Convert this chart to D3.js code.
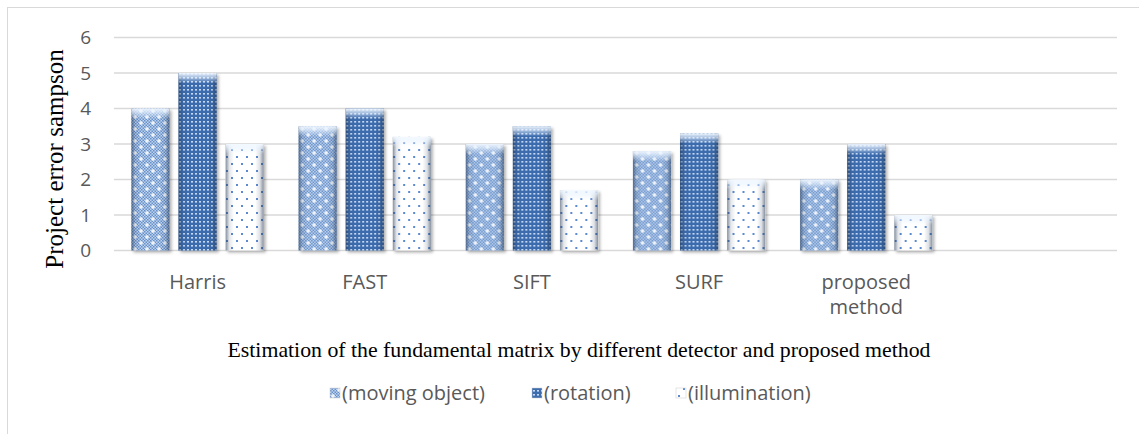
<!DOCTYPE html>
<html>
<head>
<meta charset="utf-8">
<script src="https://cdn.jsdelivr.net/npm/d3@7.9.0/dist/d3.min.js"></script>
<style>
  html, body { margin: 0; padding: 0; background: #fff; }
  svg { display: block; }
</style>
</head>
<body>
<svg id="chart" width="1139" height="434"></svg>
<script>
// chart data
const categories = ["Harris", "FAST", "SIFT", "SURF", "proposed method"];
const series = ["(moving object)", "(rotation)", "(illumination)"];
const movingObject = [4, 3.5, 3, 2.8, 2];
const rotation = [5, 4, 3.5, 3.3, 3];
const illumination = [3, 3.2, 1.7, 2, 1];
const yTicks = [0, 1, 2, 3, 4, 5, 6];
const yTitle = "Project error sampson";
const xTitle = "Estimation of the fundamental matrix by different detector and proposed method";

const values = [movingObject, rotation, illumination];

const svg = d3.select("#chart");
const defs = svg.append("defs");

// outer chart border (cut off at right and bottom)
svg.append("rect")
    .attr("x", 7.5).attr("y", 7.5)
    .attr("width", 1200).attr("height", 500)
    .attr("fill", "#fff")
    .attr("stroke", "#d9d9d9");

// --- fill patterns ---
// moving object: fine checker with white crosses
const chk = defs.append("pattern").attr("id", "chk")
    .attr("width", 3).attr("height", 3).attr("patternUnits", "userSpaceOnUse");
chk.append("rect").attr("width", 3).attr("height", 3).attr("fill", "#bdd2ee");
chk.append("rect").attr("width", 1.5).attr("height", 1.5).attr("fill", "#6890c9");
chk.append("rect").attr("x", 1.5).attr("y", 1.5).attr("width", 1.5).attr("height", 1.5).attr("fill", "#6890c9");

const pA = defs.append("pattern").attr("id", "patA")
    .attr("width", 12).attr("height", 12).attr("patternUnits", "userSpaceOnUse");
pA.append("rect").attr("width", 12).attr("height", 12).attr("fill", "url(#chk)");
[[3, 3], [9, 9]].forEach(([cx, cy]) => {
    pA.append("rect").attr("x", cx - 2).attr("y", cy - 0.6).attr("width", 4).attr("height", 1.2).attr("fill", "#fff");
    pA.append("rect").attr("x", cx - 0.6).attr("y", cy - 2).attr("width", 1.2).attr("height", 4).attr("fill", "#fff");
});

// rotation: blue with light dot grid
const pB = defs.append("pattern").attr("id", "patB")
    .attr("width", 4).attr("height", 4).attr("patternUnits", "userSpaceOnUse");
pB.append("rect").attr("width", 4).attr("height", 4).attr("fill", "#3d6cae");
pB.append("rect").attr("x", 1).attr("y", 1).attr("width", 2).attr("height", 1.6).attr("fill", "#c6d9f2");

// illumination: white with sparse blue dots
const pC = defs.append("pattern").attr("id", "patC")
    .attr("width", 10).attr("height", 14).attr("patternUnits", "userSpaceOnUse");
pC.append("rect").attr("width", 10).attr("height", 14).attr("fill", "#fff");
pC.append("rect").attr("x", 2).attr("y", 2).attr("width", 2).attr("height", 2).attr("fill", "#5b8ad0");
pC.append("rect").attr("x", 7).attr("y", 9).attr("width", 2).attr("height", 2).attr("fill", "#5b8ad0");

const fills = ["url(#patA)", "url(#patB)", "url(#patC)"];

// 3D shading overlays
const side = defs.append("linearGradient").attr("id", "side")
    .attr("x1", "0%").attr("x2", "100%").attr("y1", "0%").attr("y2", "0%");
[["0%", 0.55], ["10%", 0.12], ["22%", 0], ["78%", 0], ["90%", 0.15], ["100%", 0.55]].forEach(([o, a]) => {
    side.append("stop").attr("offset", o).attr("stop-color", "#1f3350").attr("stop-opacity", a);
});
const topGrad = defs.append("linearGradient").attr("id", "topHi")
    .attr("x1", "0%").attr("x2", "0%").attr("y1", "0%").attr("y2", "100%");
topGrad.append("stop").attr("offset", "0%").attr("stop-color", "#f2f8ff").attr("stop-opacity", 0.95);
topGrad.append("stop").attr("offset", "45%").attr("stop-color", "#eaf4ff").attr("stop-opacity", 0.6);
topGrad.append("stop").attr("offset", "100%").attr("stop-color", "#eaf4ff").attr("stop-opacity", 0);

const shadow = defs.append("filter").attr("id", "shadow")
    .attr("x", "-20%").attr("y", "-5%").attr("width", "150%").attr("height", "115%");
shadow.append("feDropShadow").attr("dx", 2).attr("dy", 2).attr("stdDeviation", 1.5)
    .attr("flood-color", "#000").attr("flood-opacity", 0.3);

// --- scales ---
const left = 114, right = 1117, y0 = 250.5, y6 = 37.5;
const x = d3.scaleBand()
    .domain([...categories, "_"])   // one empty slot at the right, as in the original
    .range([left, right]);
const x1 = d3.scaleBand()
    .domain(series)
    .range([0, x.bandwidth()])
    .paddingInner(0.19)
    .paddingOuter(0.37);
const y = d3.scaleLinear().domain([0, 6]).range([y0, y6]);

const sans = "'Open Sans', sans-serif";
const serif = "'Liberation Serif', 'Times New Roman', serif";

// gridlines
svg.append("g")
    .selectAll("line")
    .data(yTicks)
    .join("line")
    .attr("x1", left).attr("x2", right)
    .attr("y1", d => y(d)).attr("y2", d => y(d))
    .attr("stroke", "#d9d9d9")
    .attr("stroke-width", 1.5);

// y tick labels
svg.append("g")
    .selectAll("text")
    .data(yTicks)
    .join("text")
    .attr("x", 91)
    .attr("y", d => y(d))
    .attr("dy", "0.36em")
    .attr("text-anchor", "end")
    .attr("fill", "#595959")
    .style("font-family", sans)
    .style("font-size", "19px")
    .text(d => d);

// bars
const groups = svg.append("g")
    .selectAll("g")
    .data(categories)
    .join("g")
    .attr("transform", c => `translate(${x(c)},0)`);

groups.each(function (c, ci) {
    const g = d3.select(this);
    series.forEach((s, si) => {
        const v = values[si][ci];
        const bx = x1(s), bw = x1.bandwidth();
        const by = y(v), bh = y(0) - y(v);
        const bar = g.append("g");
        bar.append("rect")
            .attr("x", bx).attr("y", by).attr("width", bw).attr("height", bh)
            .attr("fill", fills[si])
            .attr("filter", "url(#shadow)");
        bar.append("rect")
            .attr("x", bx).attr("y", by).attr("width", bw).attr("height", bh)
            .attr("fill", "url(#side)");
        bar.append("rect")
            .attr("x", bx).attr("y", by).attr("width", bw).attr("height", Math.min(10, bh))
            .attr("fill", "url(#topHi)");
    });
});

// category labels (wrap "proposed method")
svg.append("g")
    .selectAll("text")
    .data(categories)
    .join("text")
    .attr("x", c => x(c) + x.bandwidth() / 2)
    .attr("y", 289)
    .attr("text-anchor", "middle")
    .attr("fill", "#595959")
    .style("font-family", sans)
    .style("font-size", "20px")
    .each(function (c) {
        const words = c.split(" ");
        d3.select(this).selectAll("tspan")
            .data(words)
            .join("tspan")
            .attr("x", x(c) + x.bandwidth() / 2)
            .attr("dy", (d, i) => i === 0 ? 0 : 25)
            .text(d => d);
    });

// axis titles
svg.append("text")
    .attr("transform", `translate(63,159) rotate(-90)`)
    .attr("text-anchor", "middle")
    .attr("fill", "#000")
    .style("font-family", serif)
    .style("font-size", "25px")
    .text(yTitle);

svg.append("text")
    .attr("x", 579)
    .attr("y", 357)
    .attr("text-anchor", "middle")
    .attr("fill", "#000")
    .style("font-family", serif)
    .style("font-size", "21.8px")
    .text(xTitle);

// legend
const legendX = [330, 532, 676];
const legend = svg.append("g")
    .selectAll("g")
    .data(series)
    .join("g")
    .attr("transform", (d, i) => `translate(${legendX[i]},393)`);
legend.append("rect")
    .attr("x", 0).attr("y", -5).attr("width", 10).attr("height", 10)
    .attr("fill", (d, i) => fills[i])
    .attr("stroke", "#c9c9c9")
    .attr("stroke-width", 0.5);
legend.append("text")
    .attr("x", 12).attr("y", 0).attr("dy", "0.36em")
    .attr("fill", "#595959")
    .style("font-family", sans)
    .style("font-size", "20px")
    .text(d => d);
</script>
</body>
</html>
